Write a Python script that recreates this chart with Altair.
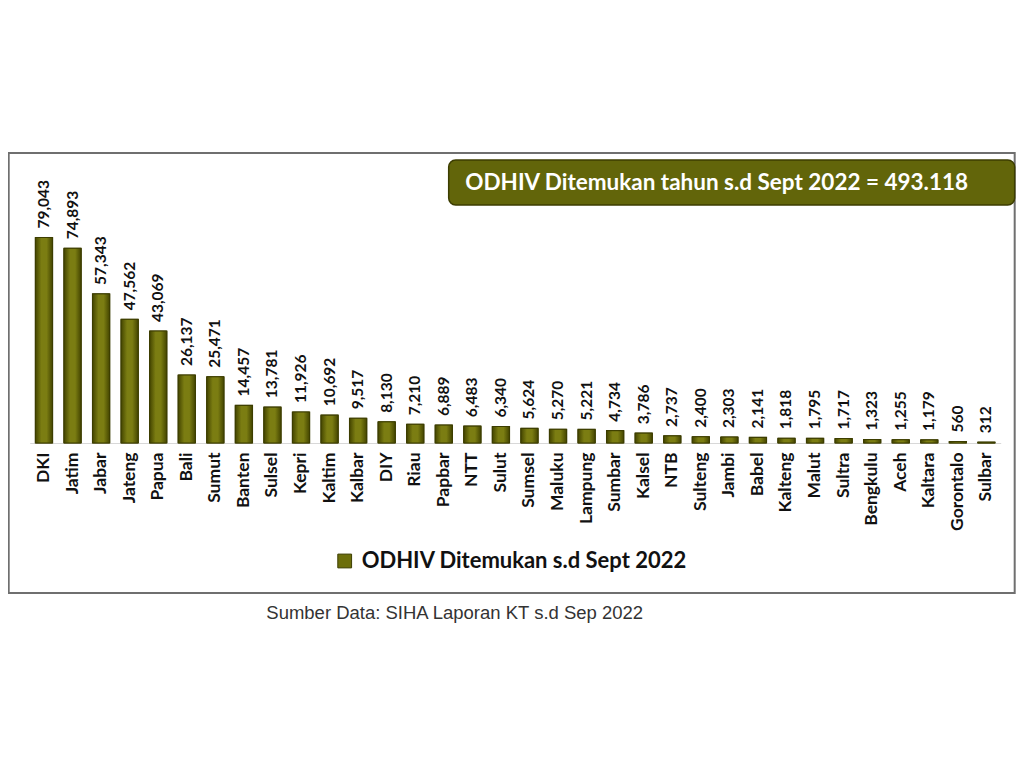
import altair as alt
import pandas as pd

categories = ["DKI", "Jatim", "Jabar", "Jateng", "Papua", "Bali", "Sumut", "Banten",
              "Sulsel", "Kepri", "Kaltim", "Kalbar", "DIY", "Riau", "Papbar", "NTT",
              "Sulut", "Sumsel", "Maluku", "Lampung", "Sumbar", "Kalsel", "NTB",
              "Sulteng", "Jambi", "Babel", "Kalteng", "Malut", "Sultra", "Bengkulu",
              "Aceh", "Kaltara", "Gorontalo", "Sulbar"]
values = [79043, 74893, 57343, 47562, 43069, 26137, 25471, 14457, 13781, 11926,
          10692, 9517, 8130, 7210, 6889, 6483, 6340, 5624, 5270, 5221, 4734, 3786,
          2737, 2400, 2303, 2141, 1818, 1795, 1717, 1323, 1255, 1179, 560, 312]
series_name = "ODHIV Ditemukan s.d Sept 2022"
title_text = "ODHIV Ditemukan tahun s.d Sept 2022 = 493.118"
source_text = "Sumber Data: SIHA Laporan KT s.d Sep 2022"

df = pd.DataFrame({
    "prov": categories,
    "val": values,
    "label": [f"{v:,}" for v in values],
    "series": [series_name] * len(categories),
})
one = pd.DataFrame({"t": [title_text], "s": [source_text]})

FONT = "Lato"
OLIVE = "#6c6e0a"
DARK = "#3c3d00"

x_enc = alt.X("prov:N", sort=categories,
              scale=alt.Scale(paddingInner=0.4, paddingOuter=0.2),
              axis=alt.Axis(title=None, labelAngle=270, labelFont=FONT,
                            labelFontSize=17.5, labelFontWeight="bold",
                            labelColor="#111111", labelPadding=9, ticks=False,
                            domainColor="#d8d8d8", domainWidth=1))
y_enc = alt.Y("val:Q", scale=alt.Scale(domain=[0, 80000]), axis=None)

border = alt.Chart(one).mark_rect(fill="transparent", stroke="#6f6f6f",
                                  strokeWidth=2).encode(
    x=alt.value(-21), x2=alt.value(985), y=alt.value(-82), y2=alt.value(358))

title_box = alt.Chart(one).mark_rect(fill="#62650a", stroke=DARK, strokeWidth=1.5,
                                     cornerRadius=7).encode(
    x=alt.value(419), x2=alt.value(985), y=alt.value(-75), y2=alt.value(-30))

title_txt = alt.Chart(one).mark_text(font=FONT, fontSize=22.5, fontWeight="bold",
                                     color="white", align="center",
                                     baseline="middle").encode(
    x=alt.value(687), y=alt.value(-52), text="t:N")

source_txt = alt.Chart(one).mark_text(font="Liberation Sans", fontSize=18.5,
                                      color="#333333", align="center",
                                      baseline="middle").encode(
    x=alt.value(425), y=alt.value(378), text="s:N")

bars = alt.Chart(df).mark_bar(stroke=DARK, strokeWidth=1.2).encode(
    x=x_enc, y=y_enc,
    fill=alt.Fill("series:N", scale=alt.Scale(range=[OLIVE]),
                  legend=alt.Legend(title=None, orient="none", legendX=304,
                                    legendY=315, symbolType="square",
                                    symbolSize=190, symbolStrokeColor=DARK,
                                    symbolStrokeWidth=1, labelFont=FONT,
                                    labelFontSize=22, labelFontWeight="bold",
                                    labelColor="#111111", labelOffset=6,
                                    labelLimit=0, padding=0)))

grad = alt.LinearGradient(gradient="linear", x1=0, x2=1, y1=0, y2=0,
                          stops=[alt.GradientStop(offset=0, color="#444500"),
                                 alt.GradientStop(offset=0.35, color="#7b7d12"),
                                 alt.GradientStop(offset=0.65, color="#7b7d12"),
                                 alt.GradientStop(offset=1, color="#444500")])
bars_shade = alt.Chart(df).mark_bar(color=grad, stroke=DARK, strokeWidth=1).encode(
    x=alt.X("prov:N", sort=categories), y="val:Q")

value_txt = alt.Chart(df).mark_text(font=FONT, fontSize=15.5, fontWeight="bold",
                                    color="#111111", angle=270, align="left",
                                    baseline="middle", dx=9).encode(
    x=alt.X("prov:N", sort=categories), y="val:Q", text="label:N")

chart = alt.layer(border, title_box, title_txt, source_txt, bars, bars_shade,
                  value_txt).properties(
    width=971, height=208,
    autosize=alt.AutoSizeParams(type="none"),
    padding={"left": 21.7, "top": 227, "right": 15, "bottom": 200},
    background="white",
).configure_view(stroke=None)

chart.save("out.html", embed_options={"renderer": "svg", "actions": False})
